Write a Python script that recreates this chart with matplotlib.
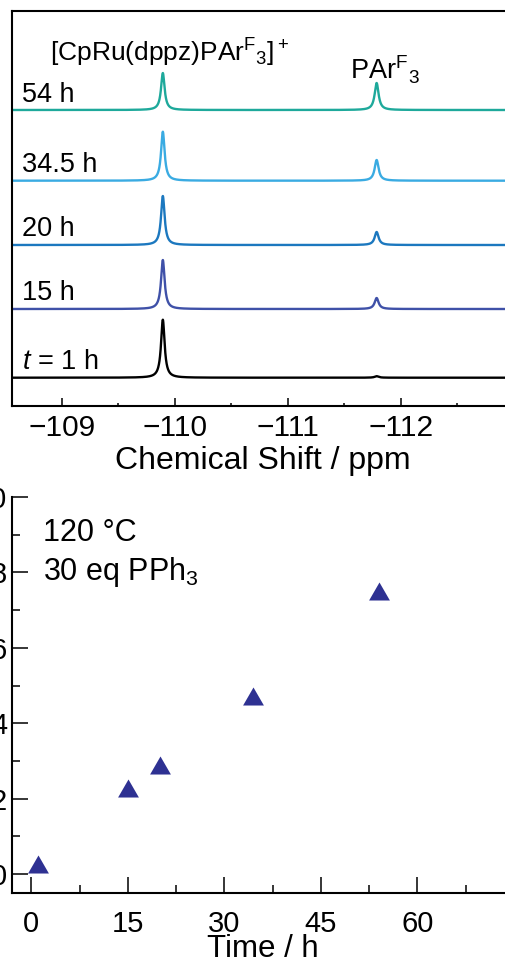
import numpy as np
import matplotlib
matplotlib.use("Agg")
import matplotlib.pyplot as plt
from matplotlib.ticker import MultipleLocator, FixedLocator
from matplotlib.transforms import blended_transform_factory
from matplotlib.path import Path

plt.rcParams['font.family'] = ['Liberation Sans', 'DejaVu Sans']
plt.rcParams['mathtext.fontset'] = 'custom'
plt.rcParams['mathtext.rm'] = 'Liberation Sans'
plt.rcParams['mathtext.it'] = 'Liberation Sans:italic'
plt.rcParams['mathtext.bf'] = 'Liberation Sans:bold'

# ---------------- data ----------------
# NMR traces (bottom to top)
trace_labels = ["$t$ = 1 h", "15 h", "20 h", "34.5 h", "54 h"]
trace_colors = ["#000000", "#3f51a8", "#1c78bf", "#3aabe2", "#1ea99b"]
complex_shift = -109.894      # ppm, [CpRu(dppz)PArF3]+
complex_height = [58, 49, 49, 49, 37]
complex_hwhm = 0.019
ligand_shift = -111.785       # ppm, PArF3
ligand_height = [1.5, 11, 13, 20.7, 27]
ligand_hwhm = 0.021
shift_ticks = [-109, -110, -111, -112]

# kinetics
time_h = [1, 15, 20, 34.5, 54]
yield_vals = [0.28, 2.28, 2.90, 4.72, 7.50]
time_ticks = [0, 15, 30, 45, 60]
yield_ticks = [0, 2, 4, 6, 8, 10]

# ---------------- layout ----------------
W, H = 505, 968
fig = plt.figure(figsize=(W / 100, H / 100), dpi=100)

# top panel
ax1 = fig.add_axes([12 / W, (H - 406) / H, 502 / W, 395 / H])
baselines = [28.3, 97, 161, 225.3, 296]  # vertical offsets of stacked traces
ppm = np.linspace(-108.56, -113.0, 6000)
trans1 = blended_transform_factory(ax1.transAxes, ax1.transData)
for lab, col, h1, h2, off in zip(trace_labels, trace_colors, complex_height,
                                  ligand_height, baselines):
    y = (off + h1 / (1 + ((ppm - complex_shift) / complex_hwhm) ** 2)
         + h2 / (1 + ((ppm - ligand_shift) / ligand_hwhm) ** 2))
    ax1.plot(ppm, y, color=col, lw=1.7, solid_joinstyle='round')
    ax1.text(0.02, off + 8.5, lab, transform=trans1, fontsize=19.5,
             va='baseline', ha='left')

ax1.set_xlim(-108.56, -113.0)
ax1.set_ylim(0, 395)
ax1.set_yticks([])
ax1.xaxis.set_major_locator(FixedLocator(shift_ticks))
ax1.xaxis.set_minor_locator(MultipleLocator(0.5))
ax1.tick_params(axis='x', which='major', direction='in', length=5.8, width=1.1,
                labelsize=21.5, pad=6.0)
ax1.tick_params(axis='x', which='minor', direction='in', length=2.5, width=1.1)
for s in ax1.spines.values():
    s.set_linewidth(1.5)
ax1.set_xlabel("Chemical Shift / ppm", fontsize=23)
ax1.xaxis.set_label_coords(0.5, -0.1025)

ax1.text(0.0757, 344, r"[CpRu(dppz)PAr$^\mathregular{F}$$_\mathregular{3}$]$^+$",
         transform=trans1, fontsize=19, va='baseline', ha='left')
ax1.text(0.673, 326, r"PAr$^\mathregular{F}$$_\mathregular{3}$",
         transform=trans1, fontsize=19.5, va='baseline', ha='left')

# bottom panel
ax2 = fig.add_axes([12 / W, (H - 893) / H, 502 / W, 396 / H])
tri = Path([(-1, -0.866), (1, -0.866), (0, 0.866), (-1, -0.866)],
           [Path.MOVETO, Path.LINETO, Path.LINETO, Path.CLOSEPOLY])
ax2.plot(time_h, yield_vals, linestyle='none', marker=tri, markersize=15,
         color='#2e3192', markeredgewidth=0)
ax2.set_xlim(-3, 75)
ax2.set_ylim(-0.5, 10)
ax2.spines['top'].set_visible(False)
ax2.spines['right'].set_visible(False)
for s in ('left', 'bottom'):
    ax2.spines[s].set_linewidth(1.5)
ax2.xaxis.set_major_locator(FixedLocator(time_ticks))
ax2.xaxis.set_minor_locator(MultipleLocator(7.5))
ax2.yaxis.set_major_locator(FixedLocator(yield_ticks))
ax2.yaxis.set_minor_locator(MultipleLocator(1))
ax2.tick_params(axis='both', which='major', direction='in', length=11.5,
                width=1.1, labelsize=21)
ax2.tick_params(axis='both', which='minor', direction='in', length=5.8,
                width=1.1)
ax2.tick_params(axis='x', which='major', pad=12.5)
ax2.tick_params(axis='y', which='major', pad=3.6)
ax2.set_xlabel("Time / h", fontsize=22.5)
ax2.xaxis.set_label_coords(0.5, -0.104)

trans2 = blended_transform_factory(ax2.transAxes, ax2.transData)
ax2.text(0.0618, 8.84, "120 °C", transform=trans2, fontsize=22,
         va='baseline', ha='left')
ax2.text(0.0618, 7.80, "30 eq PPh$_\\mathregular{3}$", transform=trans2,
         fontsize=22, va='baseline', ha='left')

fig.savefig("out.png", dpi=100)
